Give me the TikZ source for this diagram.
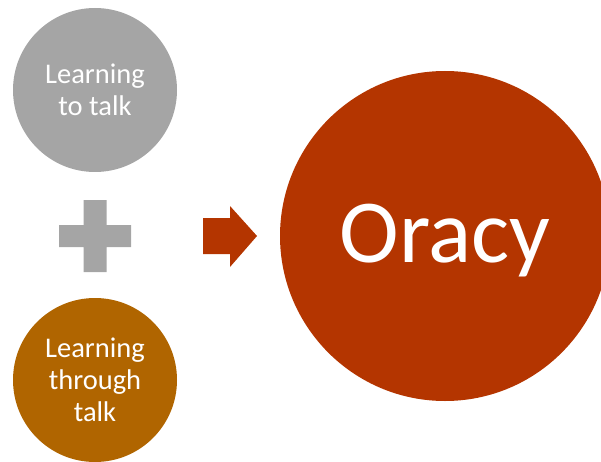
\documentclass[tikz,border=0pt]{standalone}
\usepackage{fontspec}
\setmainfont{Carlito}
\usetikzlibrary{
    positioning, % posicionamento relativo
    arrows.meta
}
\definecolor{oracy_red}{HTML}{B43500}
\definecolor{talk_gray}{HTML}{A5A5A5}
\definecolor{talk_brown}{HTML}{B06500}

\begin{document}
\begin{tikzpicture}[x=1pt, y=-1pt] % 1 unidade = 1 pixel da figura

    % --- Definição de Estilos ---
    \tikzset{
        % Círculos pequenos da esquerda
        small_circle/.style={
            circle,
            inner sep=0pt,
            minimum size=164pt,
            text=white,
            align=center,
            font=\fontsize{28.5}{32}\selectfont
        },
        % Círculo grande da direita
        big_circle/.style={
            circle,
            inner sep=0pt,
            minimum size=330pt,
            fill=oracy_red
        },
        big_text/.style={
            text=white,
            inner sep=0pt,
            font=\fontsize{90}{108}\selectfont
        }
    }

    % --- Área visível ---
    \clip (0,0) rectangle (601,462);

    % --- Círculos ---
    \node[small_circle, fill=talk_gray] (to_talk) at (95,90) {Learning\\to talk};
    \node[small_circle, fill=talk_brown] (through_talk) at (95,380) {Learning\\through\\talk};
    \node[big_circle] (oracy) at (445,236) {};
    \node[big_text, anchor=base] (oracy_label) at ([yshift=-26pt]oracy.center) {Oracy};

    % --- Sinal de mais ---
    \fill[talk_gray] (83.5,200) rectangle (106.5,272)
                     (59,225) rectangle (131,247);

    % --- Seta ---
    \fill[oracy_red] (203,218) -- (230,218) -- (230,206) -- (257,236)
                     -- (230,267) -- (230,254) -- (203,254) -- cycle;

\end{tikzpicture}
\end{document}
